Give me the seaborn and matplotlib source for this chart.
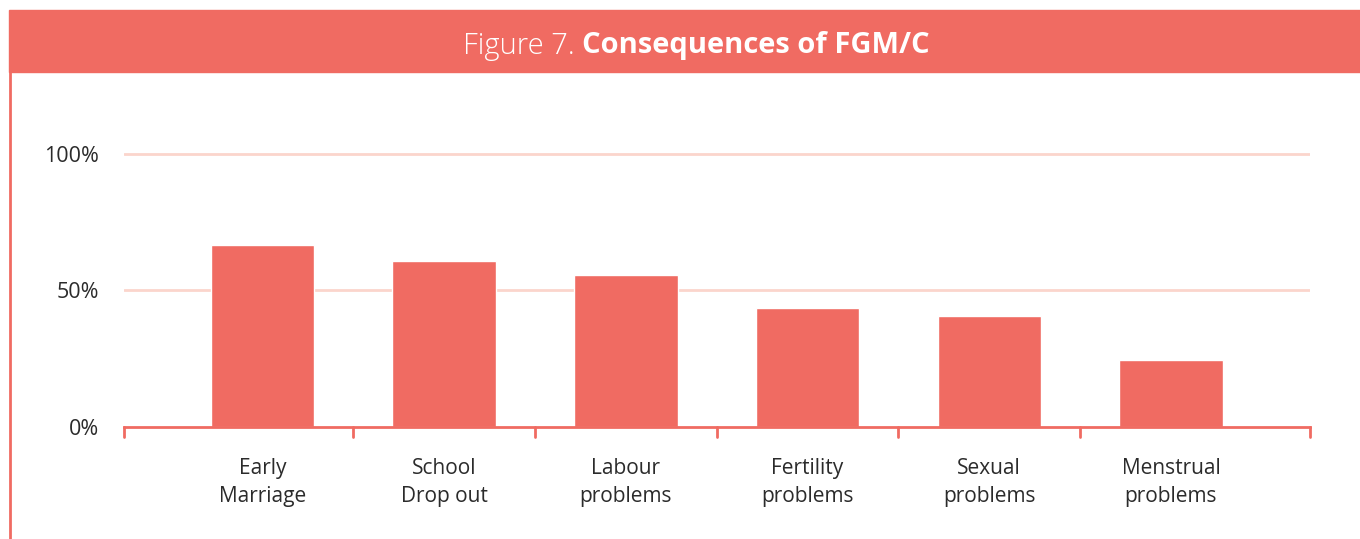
import numpy as np
import matplotlib.pyplot as plt
import seaborn as sns
import pandas as pd

# data
categories = ["Early\nMarriage", "School\nDrop out", "Labour\nproblems",
              "Fertility\nproblems", "Sexual\nproblems", "Menstrual\nproblems"]
values = [66.5, 60.7, 55.6, 43.5, 40.6, 24.5]
ytick_labels = ["0%", "50%", "100%"]

salmon = "#F06B62"
grid_pink = "#FBD5CC"
text_col = "#2B2B2B"

sns.set_theme(style="white")
plt.rcParams['font.family'] = ['Open Sans', 'DejaVu Sans']

df = pd.DataFrame({"cat": categories, "val": values})

fig = plt.figure(figsize=(13.6, 5.39), dpi=100)

# banner + left frame line
fig.patches.append(plt.Rectangle((9 / 1360, 1 - 72 / 539), 1, 62 / 539,
                                 transform=fig.transFigure, color=salmon, zorder=0))
fig.add_artist(plt.Line2D([10 / 1360, 10 / 1360], [0, 1 - 72 / 539],
                          transform=fig.transFigure, color=salmon, lw=2))
fig.text(582 / 1360, 1 - 46 / 539, "Figure 7. ", ha="right", va="center",
         color="white", fontsize=21, fontweight="light")
fig.text(582 / 1360, 1 - 46 / 539, "Consequences of FGM/C", ha="left", va="center",
         color="white", fontsize=21, fontweight="bold")

# axes placed to match the reference
ax = fig.add_axes([124 / 1360, 1 - 427 / 539, (1310 - 124) / 1360, (427 - 120) / 539])
sns.barplot(data=df, x="cat", y="val", color=salmon, saturation=1, width=0.57, ax=ax, zorder=3)

ax.set_xlim(-0.762, 5.765)
ax.set_ylim(0, 100 * (427 - 120) / 273.5)
ax.set_yticks([0, 50, 100])
ax.set_yticklabels(ytick_labels)
for y in [50, 100]:
    ax.axhline(y, color=grid_pink, lw=2, zorder=1)

ax.set_xticks(range(len(categories)))
ax.set_xticklabels(categories, fontsize=15, color=text_col, linespacing=1.45)
ax.tick_params(axis="x", length=0, pad=22)
ax.tick_params(axis="y", length=0, pad=18, labelsize=15.5, labelcolor=text_col)

# boundary ticks along the baseline
for xb in [-0.762, 0.5, 1.5, 2.5, 3.5, 4.5, 5.765]:
    ax.plot([xb, xb], [0, -3.5], color=salmon, lw=2, clip_on=False, zorder=4)

ax.set_xlabel("")
ax.set_ylabel("")
for s in ["top", "right", "left"]:
    ax.spines[s].set_visible(False)
ax.spines["bottom"].set_color(salmon)
ax.spines["bottom"].set_linewidth(2)
ax.spines["bottom"].set_zorder(5)

fig.savefig("out.png", dpi=100)
